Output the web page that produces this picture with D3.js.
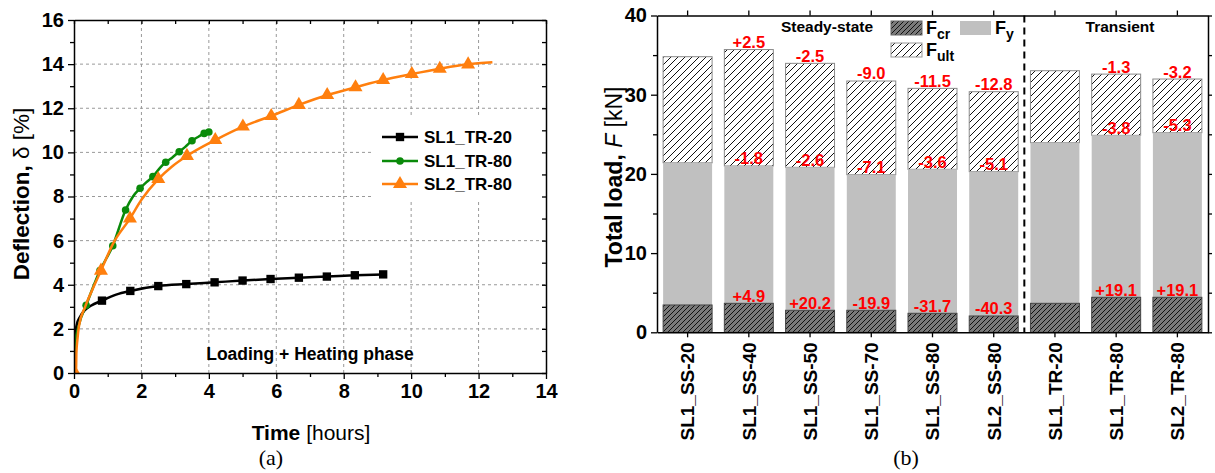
<!DOCTYPE html>
<html>
<head>
<meta charset="utf-8">
<script src="https://cdn.jsdelivr.net/npm/d3@7"></script>
<style>
  body { margin: 0; background: #fff; }
  text { font-family: Arial, "Liberation Sans", sans-serif; }
  text.serif { font-family: "Liberation Serif", "Times New Roman", serif; }
</style>
</head>
<body>
<div id="viz"></div>
<script>
// ---- (a) deflection vs time ----
var timeTicks = [0, 2, 4, 6, 8, 10, 12, 14];
var deflTicks = [0, 2, 4, 6, 8, 10, 12, 14, 16];

var seriesNames = ["SL1_TR-20", "SL1_TR-80", "SL2_TR-80"];
var seriesColors = ["#000000", "#0a8a0a", "#ff7f0e"];

// [hours, deflection %]
var sl1tr20Line = [[0,0],[0.005,0.8],[0.02,1.6],[0.08,2.18],[0.18,2.55],[0.33,2.86],[0.5,3.05],[0.83,3.28],
  [1.25,3.55],[1.67,3.72],[2.5,3.94],[3.33,4.03],[4.17,4.11],[5.0,4.19],[5.83,4.26],[6.67,4.32],
  [7.5,4.37],[8.33,4.43],[9.17,4.47]];
var sl1tr20Marks = [[0.83,3.28],[1.67,3.72],[2.5,3.94],[3.33,4.03],[4.17,4.11],[5.0,4.19],[5.83,4.26],
  [6.67,4.32],[7.5,4.37],[8.33,4.43],[9.17,4.47]];

var sl1tr80Line = [[0,0],[0.01,0.6],[0.03,1.3],[0.15,2.2],[0.36,3.07],[0.77,4.64],[1.15,5.77],[1.53,7.39],
  [1.75,8.0],[1.96,8.37],[2.15,8.65],[2.34,8.9],[2.55,9.3],[2.72,9.55],[2.9,9.75],[3.12,10.03],
  [3.3,10.25],[3.5,10.53],[3.7,10.72],[3.86,10.86],[4.02,10.93]];
var sl1tr80Marks = [[0.36,3.07],[0.77,4.64],[1.15,5.77],[1.53,7.39],[1.96,8.37],[2.34,8.9],[2.72,9.55],
  [3.12,10.03],[3.5,10.53],[3.86,10.86],[4.0,10.92]];

var sl2tr80Line = [[0,0],[0.06,0.02],[0.07,0.9],[0.1,1.5],[0.15,2.15],[0.33,3.0],[0.55,3.8],[0.8,4.64],
  [1.17,5.9],[1.66,7.0],[2.0,7.85],[2.5,8.79],[2.9,9.35],[3.35,9.84],[4.19,10.56],[5.01,11.17],
  [5.85,11.65],[6.67,12.15],[7.51,12.6],[8.35,12.95],[9.17,13.28],[10.02,13.55],[10.85,13.79],
  [11.69,13.99],[12.41,14.08]];
var sl2tr80Marks = [[0.03,0],[0.8,4.64],[1.66,7.0],[2.5,8.79],[3.35,9.84],[4.19,10.56],[5.01,11.17],[5.85,11.65],
  [6.67,12.15],[7.51,12.6],[8.35,12.95],[9.17,13.28],[10.02,13.55],[10.85,13.79],[11.69,13.99]];

// ---- (b) load bars ----
var specimens = ["SL1_SS-20","SL1_SS-40","SL1_SS-50","SL1_SS-70","SL1_SS-80","SL2_SS-80","SL1_TR-20","SL1_TR-80","SL2_TR-80"];
var fCr  = [3.45, 3.66, 2.78, 2.78, 2.40, 2.06, 3.66, 4.42, 4.42];
var fY   = [21.4, 21.0, 20.83, 19.9, 20.58, 20.28, 23.94, 24.87, 25.2];
var fUlt = [34.8, 35.7, 33.96, 31.73, 30.8, 30.38, 33.03, 32.6, 31.98];
var fUltPct = ["", "+2.5", "-2.5", "-9.0", "-11.5", "-12.8", "", "-1.3", "-3.2"];
var fYPct   = ["", "-1.8", "-2.6", "-7.1", "-3.6", "-5.1", "", "-3.8", "-5.3"];
var fCrPct  = ["", "+4.9", "+20.2", "-19.9", "-31.7", "-40.3", "", "+19.1", "+19.1"];
var loadTicks = [0, 10, 20, 30, 40];

var svg = d3.select("#viz").append("svg")
  .attr("width", 1215).attr("height", 473)
  .style("background", "#fff");

var defs = svg.append("defs");
// white hatch for F_ult
var pu = defs.append("pattern").attr("id", "hatchUlt").attr("patternUnits", "userSpaceOnUse")
  .attr("width", 7).attr("height", 7);
pu.append("rect").attr("width", 7).attr("height", 7).attr("fill", "#fff");
pu.append("path").attr("d", "M-1,1 l2,-2 M0,7 l7,-7 M6,8 l2,-2")
  .attr("stroke", "#111").attr("stroke-width", 1);
// dark hatch for F_cr
var pc = defs.append("pattern").attr("id", "hatchCr").attr("patternUnits", "userSpaceOnUse")
  .attr("width", 5).attr("height", 5);
pc.append("rect").attr("width", 5).attr("height", 5).attr("fill", "#7a7a7a");
pc.append("path").attr("d", "M-1,1 l2,-2 M0,5 l5,-5 M4,6 l2,-2")
  .attr("stroke", "#111").attr("stroke-width", 1);
defs.append("clipPath").attr("id", "clipL").append("rect")
  .attr("x", 74).attr("y", 20).attr("width", 472).attr("height", 353);

// ================= chart (a) =================
var xL = d3.scaleLinear().domain([0, 14]).range([74, 546]);
var yL = d3.scaleLinear().domain([0, 16]).range([373, 20]);

var gA = svg.append("g");

// dashed grid
gA.selectAll(".gx").data(timeTicks.slice(1, -1)).enter().append("line")
  .attr("x1", d => xL(d)).attr("x2", d => xL(d)).attr("y1", yL(0)).attr("y2", yL(16))
  .attr("stroke", "#999").attr("stroke-dasharray", "3,3");
gA.selectAll(".gy").data(deflTicks.slice(1, -1)).enter().append("line")
  .attr("x1", xL(0)).attr("x2", xL(14)).attr("y1", d => yL(d)).attr("y2", d => yL(d))
  .attr("stroke", "#999").attr("stroke-dasharray", "3,3");

// legend background hides grid
gA.append("rect").attr("x", 372).attr("y", 117).attr("width", 173).attr("height", 83).attr("fill", "#fff");

gA.append("text").attr("x", 310).attr("y", 360).attr("text-anchor", "middle")
  .attr("font-weight", "bold").attr("font-size", 17.5).text("Loading + Heating phase");

var line = d3.line().x(d => xL(d[0])).y(d => yL(d[1])).curve(d3.curveMonotoneX);
var symbols = [d3.symbol().type(d3.symbolSquare).size(70),
               d3.symbol().type(d3.symbolCircle).size(45),
               d3.symbol().type(d3.symbolTriangle).size(85)];
var lines = [sl1tr20Line, sl1tr80Line, sl2tr80Line];
var marks = [sl1tr20Marks, sl1tr80Marks, sl2tr80Marks];

var plotA = gA.append("g").attr("clip-path", "url(#clipL)");
[0, 1, 2].forEach(function (i) {
  plotA.append("path").datum(lines[i]).attr("d", line)
    .attr("fill", "none").attr("stroke", seriesColors[i]).attr("stroke-width", 2.5);
  plotA.selectAll(".m" + i).data(marks[i]).enter().append("path")
    .attr("d", symbols[i])
    .attr("transform", d => "translate(" + xL(d[0]) + "," + yL(d[1]) + ")")
    .attr("fill", seriesColors[i]);
});

// legend
var leg = gA.selectAll(".leg").data(seriesNames).enter().append("g")
  .attr("transform", (d, i) => "translate(0," + [137, 161, 184][i] + ")");
leg.append("line").attr("x1", 382).attr("x2", 418)
  .attr("stroke", (d, i) => seriesColors[i]).attr("stroke-width", 2.5);
leg.append("path").attr("d", (d, i) => symbols[i]()).attr("transform", "translate(400,0)")
  .attr("fill", (d, i) => seriesColors[i]);
leg.append("text").attr("x", 424).attr("y", 6).attr("font-weight", "bold")
  .attr("font-size", 17).text(d => d);

// axes
function styleAxis(g, labels) {
  g.select(".domain").attr("stroke-width", 1.5);
  g.selectAll(".tick line").attr("stroke-width", 1.3);
  g.selectAll("text").attr("font-weight", "bold").attr("font-size", labels || 20)
    .attr("font-family", null);
}
var axB = gA.append("g").attr("transform", "translate(0," + yL(0) + ")")
  .call(d3.axisBottom(xL).tickValues(timeTicks).tickSize(6).tickSizeOuter(0).tickPadding(5));
styleAxis(axB);
gA.append("g").attr("transform", "translate(0," + yL(0) + ")")
  .call(d3.axisBottom(xL).tickValues(d3.range(1, 14, 2)).tickSize(4).tickFormat(""))
  .call(g => g.select(".domain").remove()).selectAll("line").attr("stroke-width", 1.3);
var axLft = gA.append("g").attr("transform", "translate(" + xL(0) + ",0)")
  .call(d3.axisLeft(yL).tickValues(deflTicks).tickSize(6).tickSizeOuter(0).tickPadding(4));
styleAxis(axLft);
gA.append("g").attr("transform", "translate(" + xL(0) + ",0)")
  .call(d3.axisLeft(yL).tickValues(d3.range(1, 16, 2)).tickSize(4).tickFormat(""))
  .call(g => g.select(".domain").remove()).selectAll("line").attr("stroke-width", 1.3);
var axT = gA.append("g").attr("transform", "translate(0," + yL(16) + ")")
  .call(d3.axisTop(xL).tickValues(d3.range(0, 15, 1)).tickSize(-4).tickSizeOuter(0).tickFormat(""));
styleAxis(axT);
var axR = gA.append("g").attr("transform", "translate(" + xL(14) + ",0)")
  .call(d3.axisRight(yL).tickValues(d3.range(0, 17, 1)).tickSize(-4).tickSizeOuter(0).tickFormat(""));
styleAxis(axR);

// titles
var tx = gA.append("text").attr("x", 311).attr("y", 440).attr("text-anchor", "middle").attr("font-size", 21);
tx.append("tspan").attr("font-weight", "bold").text("Time ");
tx.append("tspan").text("[hours]");
var ty = gA.append("text").attr("transform", "translate(29,194) rotate(-90)")
  .attr("text-anchor", "middle").attr("font-size", 22.5);
ty.append("tspan").attr("font-weight", "bold").text("Deflection, ");
ty.append("tspan").text("δ [%]");
gA.append("text").attr("class", "serif").attr("x", 271).attr("y", 465).attr("text-anchor", "middle")
  .attr("font-size", 22).text("(a)");

// ================= chart (b) =================
var xR = d3.scaleBand().domain(specimens).range([657, 1208]).paddingInner(0.2).paddingOuter(0.1);
var yR = d3.scaleLinear().domain([0, 40]).range([332.3, 15.5]);
var gB = svg.append("g");

var bars = gB.selectAll(".bar").data(specimens).enter().append("g");
bars.append("rect").attr("x", d => xR(d)).attr("width", xR.bandwidth())
  .attr("y", (d, i) => yR(fUlt[i])).attr("height", (d, i) => yR(fY[i]) - yR(fUlt[i]))
  .attr("fill", "url(#hatchUlt)").attr("stroke", "#8a8a8a").attr("stroke-width", 1);
bars.append("rect").attr("x", d => xR(d)).attr("width", xR.bandwidth())
  .attr("y", (d, i) => yR(fY[i])).attr("height", (d, i) => yR(fCr[i]) - yR(fY[i]))
  .attr("fill", "#c0c0c0");
bars.append("rect").attr("x", d => xR(d)).attr("width", xR.bandwidth())
  .attr("y", (d, i) => yR(fCr[i])).attr("height", (d, i) => yR(0) - yR(fCr[i]))
  .attr("fill", "url(#hatchCr)").attr("stroke", "#444").attr("stroke-width", 1);

function pctLabels(vals, pcts) {
  bars.append("text").attr("x", d => xR(d) + xR.bandwidth() / 2)
    .attr("y", (d, i) => yR(vals[i]) - 1.5).attr("text-anchor", "middle")
    .attr("fill", "#ff0000").attr("font-weight", "bold").attr("font-size", 16.5)
    .text((d, i) => pcts[i]);
}
pctLabels(fUlt, fUltPct);
pctLabels(fY, fYPct);
pctLabels(fCr, fCrPct);

// divider steady-state / transient
var divX = xR(specimens[6]) - xR.step() * 0.1;
gB.append("line").attr("x1", divX).attr("x2", divX).attr("y1", yR(40)).attr("y2", yR(0))
  .attr("stroke", "#000").attr("stroke-width", 2).attr("stroke-dasharray", "7,5");

gB.append("text").attr("x", 827).attr("y", 32).attr("text-anchor", "middle")
  .attr("font-weight", "bold").attr("font-size", 15.5).text("Steady-state");
gB.append("text").attr("x", 1120).attr("y", 32).attr("text-anchor", "middle")
  .attr("font-weight", "bold").attr("font-size", 15.5).text("Transient");

// legend (b)
var legB = [
  { x: 891, y: 21, fill: "url(#hatchCr)", stroke: "#666", sub: "cr" },
  { x: 960, y: 21, fill: "#c0c0c0", stroke: "none", sub: "y" },
  { x: 891, y: 43, fill: "url(#hatchUlt)", stroke: "#999", sub: "ult" }
];
legB.forEach(function (l) {
  gB.append("rect").attr("x", l.x).attr("y", l.y).attr("width", 31).attr("height", 14)
    .attr("fill", l.fill).attr("stroke", l.stroke);
  var t = gB.append("text").attr("x", l.x + 35).attr("y", l.y + 13)
    .attr("font-weight", "bold").attr("font-size", 18);
  t.append("tspan").text("F");
  t.append("tspan").attr("font-size", 14).attr("dy", 5).text(l.sub);
});

// axes (b)
var yLeftB = gB.append("g").attr("transform", "translate(657,0)")
  .call(d3.axisLeft(yR).tickValues(loadTicks).tickSize(6).tickSizeOuter(0).tickPadding(4));
styleAxis(yLeftB);
gB.append("g").attr("transform", "translate(657,0)")
  .call(d3.axisLeft(yR).tickValues([5, 15, 25, 35]).tickSize(4).tickFormat(""))
  .call(g => g.select(".domain").remove()).selectAll("line").attr("stroke-width", 1.3);
var yRightB = gB.append("g").attr("transform", "translate(1208,0)")
  .call(d3.axisRight(yR).tickValues(d3.range(0, 41, 5)).tickSize(4).tickSizeOuter(0).tickFormat(""));
styleAxis(yRightB);
var xTopB = gB.append("g").attr("transform", "translate(0," + yR(40) + ")")
  .call(d3.axisTop(xR).tickSize(5).tickSizeOuter(0).tickFormat(""));
styleAxis(xTopB);
var xBotB = gB.append("g").attr("transform", "translate(0," + yR(0) + ")")
  .call(d3.axisBottom(xR).tickSize(5).tickSizeOuter(0).tickPadding(8));
styleAxis(xBotB, 19);
xBotB.selectAll(".tick text").attr("transform", "rotate(-90)")
  .attr("text-anchor", "end").attr("x", -10).attr("y", 0).attr("dy", "0.36em");

var tyB = gB.append("text").attr("transform", "translate(622,177) rotate(-90)")
  .attr("text-anchor", "middle").attr("font-size", 23);
tyB.append("tspan").attr("font-weight", "bold").text("Total load, ");
tyB.append("tspan").attr("font-style", "italic").text("F");
tyB.append("tspan").text(" [kN]");
gB.append("text").attr("class", "serif").attr("x", 906).attr("y", 465).attr("text-anchor", "middle")
  .attr("font-size", 22).text("(b)");
</script>
</body>
</html>
